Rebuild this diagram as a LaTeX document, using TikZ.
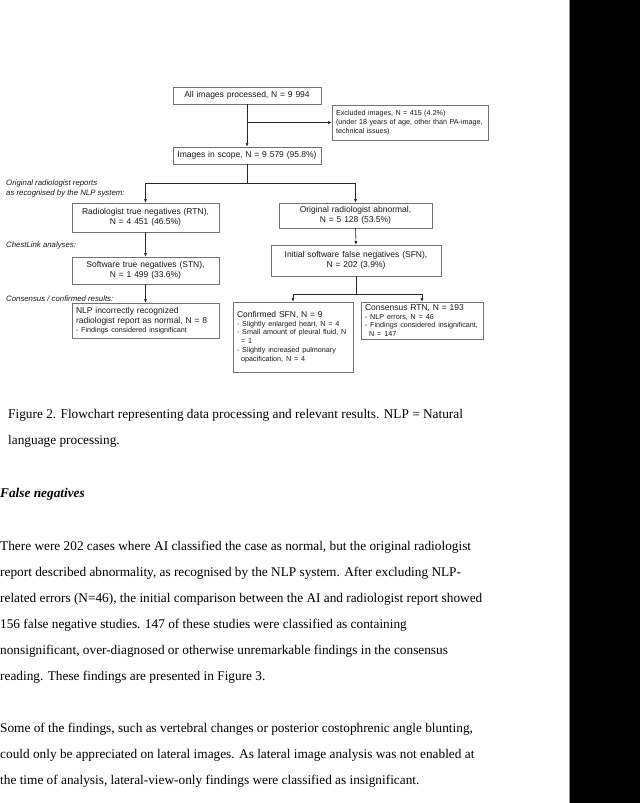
\documentclass[tikz,border=0pt]{standalone}
\usepackage{fontspec}
\setmainfont{Liberation Serif}
\setsansfont{Liberation Sans}
\usetikzlibrary{arrows.meta}
\newcommand{\hdrfont}{\sffamily\fontsize{8.5}{10}\selectfont}
\newcommand{\subfont}{\sffamily\fontsize{7.2}{8.7}\selectfont}
\begin{document}
\begin{tikzpicture}[x=1pt,y=-1pt,
  box/.style={draw=black!55, line width=0.6pt, inner xsep=4pt, inner ysep=0pt,
    font=\hdrfont, text=black!90, align=center},
  lbox/.style={box, align=left},
  line/.style={draw=black!85, line width=0.6pt},
  conn/.style={line, -{Latex[length=3.6pt,width=3pt]}},
  lbl/.style={font=\sffamily\itshape\fontsize{7.8}{10.5}\selectfont, text=black!90, align=left, anchor=west, inner sep=0pt},
  body/.style={font=\fontsize{13.3}{16}\selectfont, anchor=base west, inner sep=0pt, text=black},
  bhead/.style={body, font=\fontsize{13.3}{16}\selectfont\bfseries\itshape}]
\useasboundingbox (0,0) rectangle (640,803);
\fill[white] (0,0) rectangle (640,803);
\fill[black] (569,0) rectangle (640,803);
\draw[black!45, line width=0.8pt] (569,0) -- (569,803);

% boxes
\node[box, text width=140pt, minimum height=17pt] (all) at (247,95.5) {All images processed, N = 9 994};
\node[lbox, text width=148pt, minimum height=35pt, font=\subfont] (excl) at (410,122.5)
  {Excluded images, N = 415 (4.2\%)\\(under 18 years of age, other than PA-image,\\technical issues)};
\node[box, text width=140pt, minimum height=17pt] (scope) at (247,155.5) {Images in scope, N = 9 579 (95.8\%)};
\node[box, text width=139pt, minimum height=29pt] (rtn) at (145.5,217.5) {Radiologist true negatives (RTN),\\N = 4 451 (46.5\%)};
\node[box, text width=145pt, minimum height=25pt] (ora) at (355.5,215.5) {Original radiologist abnormal,\\N = 5 128 (53.5\%)};
\node[box, text width=162pt, minimum height=31pt] (sfn) at (356,260.5) {Initial software false negatives (SFN),\\N = 202 (3.9\%)};
\node[box, text width=139pt, minimum height=27pt] (stn) at (145.5,270.5) {Software true negatives (STN),\\N = 1 499 (33.6\%)};
\node[lbox, text width=139pt, minimum height=35pt] (nlp) at (145.5,320.5)
  {{\hdrfont NLP incorrectly recognized\\radiologist report as normal, N = 8\par}{\subfont - Findings considered insignificant\par}};
\node[lbox, text width=112pt, minimum height=70pt] (csfn) at (293,337)
  {{\hdrfont Confirmed SFN, N = 9\par}{\subfont - Slightly enlarged heart, N = 4\\- Small amount of pleural fluid, N\\\hspace*{4.2pt}= 1\\- Slightly increased pulmonary\\\hspace*{4.2pt}opacification, N = 4\par}};
\node[lbox, text width=114pt, minimum height=37pt] (crtn) at (422,320.5)
  {{\hdrfont Consensus RTN, N = 193\par}{\subfont - NLP errors, N = 46\\- Findings considered insignificant,\\\hspace*{4.2pt}N = 147\par}};

% labels
\node[lbl] (l1) at (6,188.5) {Original radiologist reports\\as recognised by the NLP system:};
\node[lbl] (l2) at (6,245.5) {ChestLink analyses:};
\node[lbl] (l3) at (6,298.5) {Consensus / confirmed results:};

% connectors
\draw[conn] (all.south) -- (scope.north);
\coordinate (b1) at (all.south |- excl.west);
\draw[conn] (b1) -- (excl.west);
\coordinate (s1) at (247,183.5);
\draw[line] (scope.south) -- (s1);
\draw[conn] (s1) -| (rtn.north);
\draw[conn] (s1) -| (ora.north);
\draw[conn] (rtn.south) -- (stn.north);
\draw[conn] (stn.south) -- (nlp.north);
\draw[conn] (ora.south) -- (sfn.north);
\coordinate (s2) at (356,294);
\draw[line] (sfn.south) -- (s2);
\draw[conn] (s2) -| (csfn.north);
\draw[conn] (s2) -| (crtn.north);

% body text
\node[body] (c1) at (8,418.5) {Figure 2. Flowchart representing data processing and relevant results. NLP = Natural};
\node[body] (c2) at (8,444.5) {language processing.};
\node[bhead] (h1) at (0,497.5) {False negatives};
\node[body] (p1) at (0,550.5) {There were 202 cases where AI classified the case as normal, but the original radiologist};
\node[body] (p2) at (0,576.5) {report described abnormality, as recognised by the NLP system. After excluding NLP-};
\node[body] (p3) at (0,602.5) {related errors (N=46), the initial comparison between the AI and radiologist report showed};
\node[body] (p4) at (0,628.5) {156 false negative studies. 147 of these studies were classified as containing};
\node[body] (p5) at (0,654.5) {nonsignificant, over-diagnosed or otherwise unremarkable findings in the consensus};
\node[body] (p6) at (0,680.5) {reading. These findings are presented in Figure 3.};
\node[body] (q1) at (0,732.5) {Some of the findings, such as vertebral changes or posterior costophrenic angle blunting,};
\node[body] (q2) at (0,758.5) {could only be appreciated on lateral images. As lateral image analysis was not enabled at};
\node[body] (q3) at (0,784.5) {the time of analysis, lateral-view-only findings were classified as insignificant.};
\end{tikzpicture}
\end{document}
